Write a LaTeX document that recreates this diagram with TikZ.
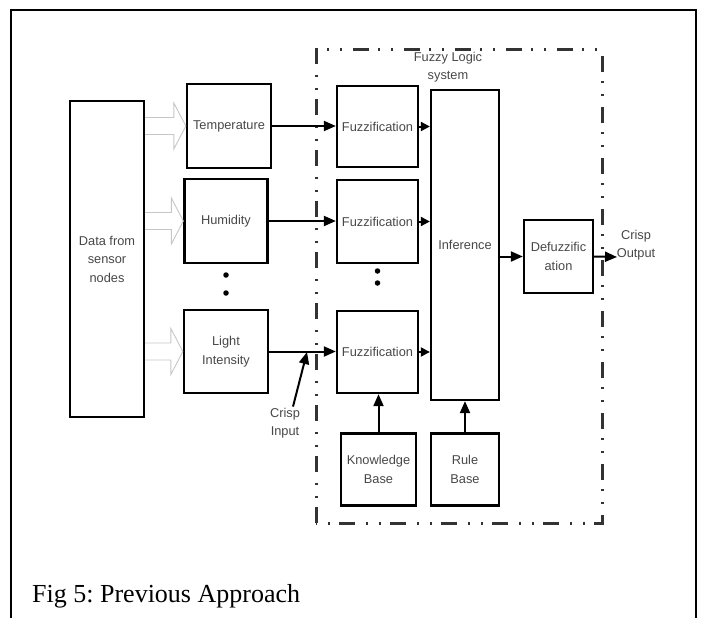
\documentclass[tikz,border=0pt]{standalone}
\usepackage{fontspec}
\setmainfont{Liberation Serif}
\newfontfamily\diagfont{Liberation Sans}
\usepackage{tikz}
\usetikzlibrary{positioning, arrows.meta, calc}
\frenchspacing

% wide open arrow from the sensor box to a measurement box
\newcommand{\hollowarrow}[2]{%
  \draw[hollow] let \p1=(#1.east |- #2.west), \p2=(#2.west) in
    (\x1,\y1+8.5pt) -- (\x2-12pt,\y1+8.5pt) -- (\x2-12pt,\y1+23pt) -- (\p2)
    -- (\x2-12pt,\y1-23pt) -- (\x2-12pt,\y1-8.5pt) -- (\x1,\y1-8.5pt);}

\begin{document}
\begin{tikzpicture}[
    x=1pt, y=-1pt,
    font=\diagfont\fontsize{12.8}{18.5}\selectfont,
    block/.style={
        rectangle,
        draw=black,
        line width=2.3pt,
        text=black!72,
        align=center,
        inner sep=0pt
    },
    lbl/.style={text=black!72, align=center, inner sep=1pt},
    msg/.style={-{Triangle[length=12pt, width=10pt]}, line width=2pt},
    tip/.style={-{Triangle[length=9pt, width=9pt]}, line width=2pt},
    hollow/.style={draw=gray!45, line width=0.9pt},
    fls/.style={black!80, line width=3pt, dash pattern=on 16pt off 9pt on 2pt off 11pt on 2pt off 11pt},
    dotc/.style={circle, fill=black, inner sep=0pt, minimum size=5.5pt}
]
\useasboundingbox (0,0) rectangle (702,618);

\def\xs{107}
\def\xm{226}
\def\xf{377.5}
\def\xi{465}

% Page frame
\draw[line width=2.4pt] (11,619) -- (11,10) -- (696,10) -- (696,619);

% Inputs
\node[block, minimum width=74pt, minimum height=316pt] (data) at (\xs,259) {Data from\\sensor\\nodes};
\node[block, minimum width=84pt, minimum height=84pt] (temp) at (\xm+3,126) {Temperature};
\node[block, minimum width=83pt, minimum height=84pt] (hum) at (\xm,221) {Humidity};
\node[block, minimum width=84pt, minimum height=83pt] (light) at (\xm,351.5) {Light\\Intensity};
\node[dotc] (ld1) at (\xm,275) {};
\node[dotc] (ld2) at (\xm,293) {};

\hollowarrow{data}{temp}
\hollowarrow{data}{hum}
\hollowarrow{data}{light}

% Fuzzy logic system
\draw[fls] (316,523) -- (316,50) -- (602,50) -- (602,523) -- cycle;
\node[lbl] (fls) at (448,67) {Fuzzy Logic\\system};

\node[block, minimum width=81pt, minimum height=81pt] (fz1) at (\xf,126.5) {Fuzzification};
\node[block, minimum width=81pt, minimum height=83pt] (fz2) at (\xf,221.5) {Fuzzification};
\node[block, minimum width=81pt, minimum height=82pt] (fz3) at (\xf,352) {Fuzzification};
\node[dotc] (fd1) at (\xf,271) {};
\node[dotc] (fd2) at (\xf,283) {};

\node[block, minimum width=68pt, minimum height=310pt] (inf) at (\xi,245) {Inference};
\node[block, minimum width=69pt, minimum height=73pt] (defz) at (558.5,256.5) {Defuzzific\\ation};
\node[block, minimum width=75pt, minimum height=72pt] (kb) at (\xf+1,469.5) {Knowledge\\Base};
\node[block, minimum width=68pt, minimum height=72pt] (rb) at (\xi,469.5) {Rule\\Base};

% Crisp values
\node[lbl] (cout) at (636,245) {Crisp\\Output};
\node[lbl] (cin) at (285,423) {Crisp\\Input};
\coordinate (out) at (617,257);
\coordinate (cinp) at (307,352);

% Connections
\draw[msg] (temp.east) -- (temp.east -| fz1.west);
\draw[msg] (hum.east) -- (hum.east -| fz2.west);
\draw[msg] (light.east) -- (light.east -| fz3.west);
\draw[msg] ($(cin.north)+(8,0)$) -- (cinp);

\draw[tip] (fz1.east) -- (fz1.east -| inf.west);
\draw[tip] (fz2.east) -- (fz2.east -| inf.west);
\draw[tip] (fz3.east) -- (fz3.east -| inf.west);

\draw[msg] (kb.north) -- (kb.north |- fz3.south);
\draw[msg] (rb.north) -- (inf.south);
\draw[msg] (inf.east |- defz.west) -- (defz.west);
\draw[msg] (defz.east) -- (out);

% Caption
\node[anchor=base west, inner sep=0pt, font=\rmfamily\fontsize{26}{30}\selectfont] (cap) at (32,602) {Fig 5: Previous Approach};

\end{tikzpicture}
\end{document}
